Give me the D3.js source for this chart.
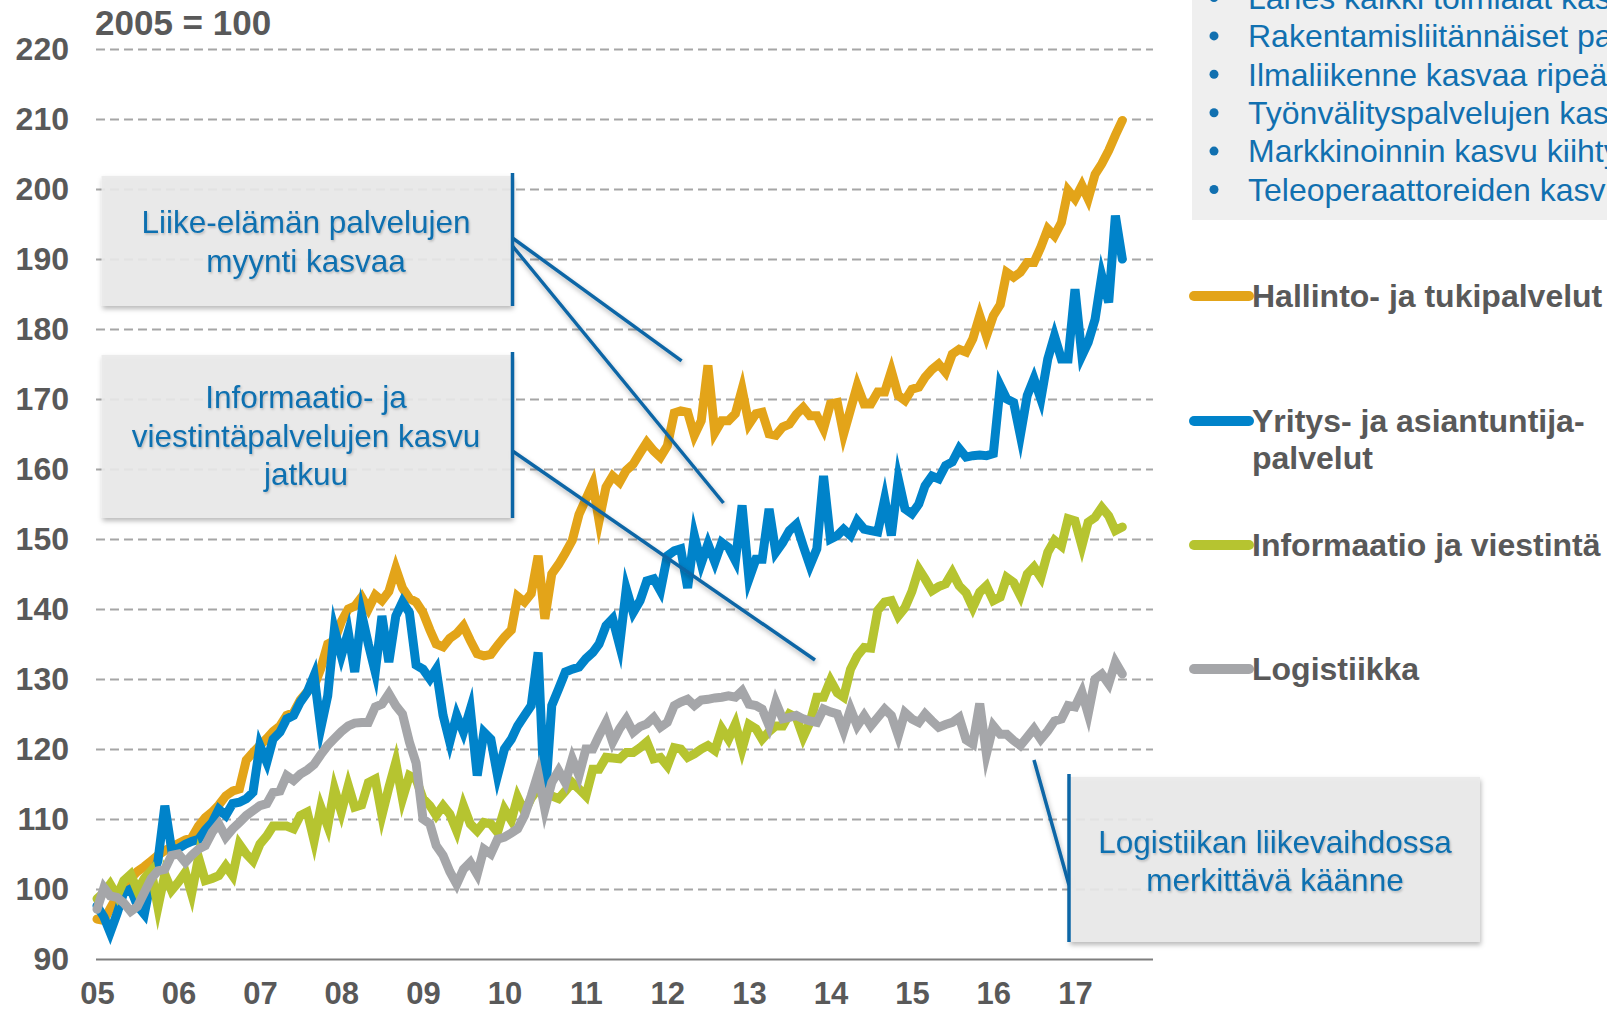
<!DOCTYPE html>
<meta charset="utf-8">
<style>
  body { margin: 0; background: #fff; }
  svg { display: block; font-family: "Liberation Sans", Arial, sans-serif; }
</style>
<svg width="1607" height="1013"></svg>
<script src="https://d3js.org/d3.v7.min.js"></script>
<script>
// monthly index, 2005 = 100, Jan 2005 .. Aug 2017
var xLabels = ["05", "06", "07", "08", "09", "10", "11", "12", "13", "14", "15", "16", "17"];
var yTicks = [90, 100, 110, 120, 130, 140, 150, 160, 170, 180, 190, 200, 210, 220];
var seriesNames = ["Hallinto- ja tukipalvelut", "Yritys- ja asiantuntija-|palvelut", "Informaatio ja viestintä", "Logistiikka"];
var seriesColors = ["#E3A419", "#0083CA", "#B6C430", "#A5A6A9"];

var hallinto = [
  95.7, 95.5, 97.2, 99.0, 100.2, 101.5, 102.5, 103.2, 104.0, 104.8, 105.5, 106.0,
  106.5, 107.0, 107.3, 109.0, 110.2, 111.0, 112.0, 113.3, 114.0, 114.3, 118.4, 119.5,
  120.5, 121.5, 122.5, 123.3, 124.8, 125.2, 127.0, 128.2, 129.0, 131.5, 135.0, 135.5,
  138.2, 140.0, 140.4, 141.7, 140.0, 142.0, 141.2, 142.5, 145.8, 143.0, 141.5, 141.0,
  139.5, 137.0, 135.0, 134.6, 135.8, 136.5, 137.6, 135.5, 133.6, 133.3, 133.5, 134.8,
  136.0, 137.0, 141.8, 141.0, 142.2, 147.6, 138.6, 145.0, 146.4, 148.0, 149.8, 153.5,
  155.7, 157.9, 152.6, 157.4, 159.0, 158.1, 159.8, 160.7, 162.3, 163.8, 162.6, 161.7,
  163.3, 168.0, 168.3, 168.1, 164.8, 166.9, 174.8, 165.2, 166.9, 166.9, 167.9, 171.4,
  166.4, 167.9, 168.1, 165.0, 164.8, 166.0, 166.4, 167.8, 168.8, 167.6, 167.6, 165.7,
  169.3, 169.5, 165.0, 168.5, 171.9, 169.3, 169.3, 171.0, 171.0, 174.0, 170.5, 169.8,
  171.4, 171.7, 173.1, 174.2, 175.0, 173.8, 176.4, 177.1, 176.7, 178.6, 181.9, 179.0,
  181.9, 183.5, 188.1, 187.4, 188.1, 189.5, 189.5, 191.7, 194.3, 193.3, 195.2, 199.8,
  198.6, 200.5, 198.6, 202.1, 203.6, 205.5, 207.7, 209.8
];
var yritys = [
  97.6, 96.0, 93.8, 96.5, 99.5, 100.0, 97.6, 96.4, 101.4, 104.0, 111.9, 105.7,
  105.8, 106.4, 106.8, 107.1, 108.4, 109.5, 111.4, 110.5, 112.2, 112.4, 112.9, 113.8,
  120.5, 118.1, 121.4, 122.4, 124.3, 124.8, 126.7, 128.1, 130.5, 123.0, 127.6, 137.1,
  133.3, 136.7, 131.0, 139.3, 135.0, 131.0, 139.0, 132.4, 139.0, 141.0, 139.5, 132.0,
  131.4, 130.0, 131.4, 124.8, 121.0, 124.8, 122.4, 125.7, 116.2, 122.4, 121.4, 116.2,
  120.0, 121.4, 123.3, 124.8, 126.2, 133.8, 112.0, 126.2, 128.6, 131.0, 131.4, 131.7,
  132.9, 133.8, 135.0, 137.6, 138.6, 134.8, 142.9, 139.5, 141.2, 144.0, 144.3, 142.6,
  147.6, 148.3, 148.6, 143.0, 150.5, 146.5, 149.3, 146.7, 149.5, 148.8, 146.9, 154.8,
  144.3, 147.1, 147.1, 154.3, 148.1, 149.5, 151.2, 152.1, 149.0, 146.2, 148.6, 159.0,
  150.0, 150.5, 151.4, 150.5, 152.6, 151.4, 151.2, 151.0, 155.7, 150.5, 158.6, 154.3,
  153.6, 155.0, 157.6, 159.0, 158.6, 160.5, 161.0, 162.9, 161.7, 161.9, 162.0, 161.9,
  162.2, 171.9, 170.0, 169.5, 164.8, 170.5, 172.9, 170.0, 175.7, 179.0, 175.7, 175.7,
  185.7, 176.2, 178.1, 181.4, 187.6, 183.8, 196.2, 190.0
];
var informaatio = [
  98.6, 99.5, 100.7, 99.0, 101.2, 102.1, 99.8, 101.5, 102.6, 97.4, 102.1, 99.8,
  101.0, 102.4, 99.3, 104.5, 101.2, 101.5, 101.9, 103.3, 101.9, 106.4, 105.0, 104.0,
  106.4, 107.6, 109.0, 109.0, 109.0, 108.6, 110.5, 111.0, 106.9, 111.7, 109.0, 114.3,
  111.0, 114.8, 111.7, 112.0, 115.2, 115.7, 110.5, 114.5, 118.1, 112.9, 116.2, 115.7,
  112.9, 111.9, 110.5, 111.9, 110.7, 108.3, 111.9, 109.3, 108.3, 109.5, 109.3, 108.1,
  111.4, 109.8, 113.1, 111.0, 113.0, 114.3, 113.8, 113.3, 112.9, 114.0, 115.2, 114.3,
  113.3, 117.1, 117.1, 118.8, 118.7, 118.6, 119.5, 119.5, 120.2, 121.0, 118.6, 118.8,
  117.6, 120.2, 120.0, 118.8, 119.3, 120.0, 120.5, 119.8, 122.9, 121.4, 123.6, 120.0,
  123.5, 122.9, 121.4, 122.5, 123.3, 123.3, 125.0, 124.5, 121.7, 123.8, 127.4, 127.4,
  129.8, 128.0, 127.4, 131.4, 133.3, 134.5, 134.4, 139.8, 141.0, 141.2, 139.0, 140.2,
  142.5, 145.7, 144.3, 142.6, 143.2, 143.6, 145.2, 143.3, 142.3, 140.2, 142.4, 143.3,
  141.2, 141.7, 144.5, 143.8, 141.9, 145.0, 146.0, 144.5, 148.1, 149.8, 149.0, 152.9,
  152.6, 149.0, 152.4, 153.1, 154.5, 153.3, 151.2, 151.7
];
var logistiikka = [
  97.1, 100.2, 99.0, 98.8, 98.0, 96.8, 97.5, 99.5, 101.5, 102.6, 102.8, 104.8,
  105.0, 103.8, 104.8, 105.7, 106.2, 108.1, 109.3, 107.4, 108.6, 109.5, 110.5, 111.2,
  111.9, 112.2, 113.8, 114.0, 116.2, 115.5, 116.4, 117.0, 117.8, 119.2, 120.5, 121.5,
  122.5, 123.3, 123.7, 123.8, 123.8, 126.0, 126.4, 127.9, 126.2, 125.0, 121.0, 118.0,
  110.0, 109.3, 106.2, 104.8, 102.5, 100.7, 102.8, 103.8, 102.1, 105.7, 105.0, 107.1,
  107.4, 108.0, 108.6, 110.5, 113.3, 116.5, 111.4, 115.2, 116.9, 115.2, 118.6, 116.2,
  120.0, 120.0, 121.9, 123.8, 121.0, 122.9, 124.3, 122.4, 123.2, 123.6, 124.5, 123.1,
  123.8, 126.2, 126.7, 127.1, 126.2, 127.0, 127.1, 127.3, 127.4, 127.6, 127.4, 128.3,
  126.4, 126.2, 125.7, 123.3, 126.7, 124.3, 124.5, 124.8, 124.3, 124.0, 123.8, 125.7,
  125.3, 125.0, 122.6, 125.7, 123.3, 124.8, 123.3, 124.5, 125.7, 124.8, 121.9, 125.2,
  124.3, 123.8, 125.0, 124.0, 123.1, 123.5, 123.8, 124.5, 121.3, 120.7, 126.5, 119.3,
  123.3, 122.1, 122.1, 121.2, 120.5, 121.7, 122.9, 121.4, 122.6, 124.0, 124.3, 126.2,
  126.0, 128.1, 125.0, 130.0, 130.7, 129.3, 132.4, 130.7
];

var boxTexts = [
  ["Liike-elämän palvelujen", "myynti kasvaa"],
  ["Informaatio- ja", "viestintäpalvelujen kasvu", "jatkuu"],
  ["Logistiikan liikevaihdossa", "merkittävä käänne"]
];
// the bullet list runs off the slide in the original; only the visible part is kept
var bulletTexts = [
  "Lähes kaikki toimialat kas",
  "Rakentamisliitännäiset pa",
  "Ilmaliikenne kasvaa ripeä",
  "Työnvälityspalvelujen kas",
  "Markkinoinnin kasvu kiihty",
  "Teleoperaattoreiden kasvu"
];

var svg = d3.select("svg");
var textGrey = "#595959", noteBlue = "#1170B0", lineBlue = "#0C66A6";

var defs = svg.append("defs");
var sh = defs.append("filter").attr("id", "shadow")
    .attr("x", "-10%").attr("y", "-10%").attr("width", "130%").attr("height", "140%");
sh.append("feDropShadow").attr("dx", 1).attr("dy", 3).attr("stdDeviation", 2.5)
    .attr("flood-color", "#000").attr("flood-opacity", 0.3);
var tsh = defs.append("filter").attr("id", "tshadow");
tsh.append("feDropShadow").attr("dx", 1).attr("dy", 1.5).attr("stdDeviation", 1.2)
    .attr("flood-color", "#000").attr("flood-opacity", 0.22);

var x = d3.scaleTime()
    .domain([new Date(2005, 0, 1), new Date(2017, 0, 1)])
    .range([97, 1075]);
var y = d3.scaleLinear().domain([90, 220]).range([959, 49]);
var left = 96, right = 1153;

// y axis with grid
var yAxis = svg.append("g")
    .attr("transform", "translate(" + left + ",0)")
    .call(d3.axisLeft(y).tickValues(yTicks).tickSize(-(right - left)).tickPadding(27));
yAxis.select(".domain").remove();
yAxis.selectAll(".tick line")
    .attr("stroke", function(d) { return d === 90 ? "#7F7F7F" : "#A6A6A6"; })
    .attr("stroke-width", 2)
    .attr("stroke-dasharray", function(d) { return d === 90 ? null : "9,5"; });
yAxis.selectAll(".tick text")
    .attr("fill", textGrey).attr("font-size", 32).attr("font-weight", "bold")
    .attr("font-family", "Liberation Sans, Arial, sans-serif");

// x axis labels
var xAxis = svg.append("g")
    .attr("transform", "translate(0,959)")
    .call(d3.axisBottom(x)
      .tickValues(xLabels.map(function(d, i) { return new Date(2005 + i, 0, 1); }))
      .tickFormat(function(d, i) { return xLabels[i]; })
      .tickSize(0).tickPadding(23));
xAxis.select(".domain").remove();
xAxis.selectAll(".tick text")
    .attr("fill", textGrey).attr("font-size", 31).attr("font-weight", "bold")
    .attr("font-family", "Liberation Sans, Arial, sans-serif");

svg.append("text").attr("x", 95).attr("y", 35)
    .attr("fill", textGrey).attr("font-size", 35).attr("font-weight", "bold")
    .text("2005 = 100");

// series
var line = d3.line()
    .x(function(d, i) { return x(new Date(2005, i, 1)); })
    .y(function(d) { return y(d); });
[hallinto, yritys, informaatio, logistiikka].forEach(function(s, k) {
  svg.append("path").datum(s)
    .attr("fill", "none")
    .attr("stroke", seriesColors[k])
    .attr("stroke-width", 9)
    .attr("stroke-linejoin", "miter")
    .attr("stroke-miterlimit", 6)
    .attr("stroke-linecap", "round")
    .attr("d", line);
});

// legend
var legY = [296, 421, 545, 669];
seriesNames.forEach(function(n, k) {
  var g = svg.append("g");
  g.append("line").attr("x1", 1194).attr("x2", 1249).attr("y1", legY[k]).attr("y2", legY[k])
    .attr("stroke", seriesColors[k]).attr("stroke-width", 10).attr("stroke-linecap", "round");
  n.split("|").forEach(function(t, j) {
    g.append("text").attr("x", 1252).attr("y", legY[k] + j * 37).attr("dy", "0.35em")
      .attr("fill", textGrey).attr("font-size", 32).attr("font-weight", "bold")
      .text(t);
  });
});

// callout lines
var callouts = [
  [512.5, 238, 681.6, 360.8],
  [512.5, 246, 723.5, 503],
  [512.5, 451, 815, 660],
  [1069, 885, 1034, 760]
];
callouts.forEach(function(c) {
  svg.append("line").attr("x1", c[0]).attr("y1", c[1]).attr("x2", c[2]).attr("y2", c[3])
    .attr("stroke", lineBlue).attr("stroke-width", 3.5).attr("filter", "url(#shadow)");
});

// note boxes
var boxes = [
  {x: 101.5, y: 176, w: 411, h: 130, bar: 512.5, cx: 306, ty: [222, 261]},
  {x: 101.5, y: 355, w: 411, h: 163, bar: 512.5, cx: 306, ty: [397, 436, 474]},
  {x: 1069, y: 777, w: 411, h: 165, bar: 1069, cx: 1275, ty: [842, 880]}
];
boxes.forEach(function(b, k) {
  svg.append("rect").attr("x", b.x).attr("y", b.y).attr("width", b.w).attr("height", b.h)
    .attr("fill", "#EAEAEA").attr("fill-opacity", 0.9).attr("filter", "url(#shadow)");
  svg.append("line").attr("x1", b.bar).attr("x2", b.bar).attr("y1", b.y - 3).attr("y2", b.y + b.h)
    .attr("stroke", lineBlue).attr("stroke-width", 3.5);
  boxTexts[k].forEach(function(t, j) {
    svg.append("text").attr("x", b.cx).attr("y", b.ty[j]).attr("dy", "0.35em")
      .attr("text-anchor", "middle").attr("fill", noteBlue).attr("font-size", 31.5)
      .attr("filter", "url(#tshadow)")
      .text(t);
  });
});

// bullet box at top right
var bg = svg.append("g");
bg.append("rect").attr("x", 1192).attr("y", -20).attr("width", 420).attr("height", 240)
  .attr("fill", "#EFEFEF");
bulletTexts.forEach(function(t, j) {
  var cy = -2.5 + j * 38.4;
  bg.append("circle").attr("cx", 1214).attr("cy", cy).attr("r", 4.5).attr("fill", noteBlue);
  bg.append("text").attr("x", 1248).attr("y", cy).attr("dy", "0.35em")
    .attr("fill", noteBlue).attr("font-size", 32).text(t);
});
</script>
